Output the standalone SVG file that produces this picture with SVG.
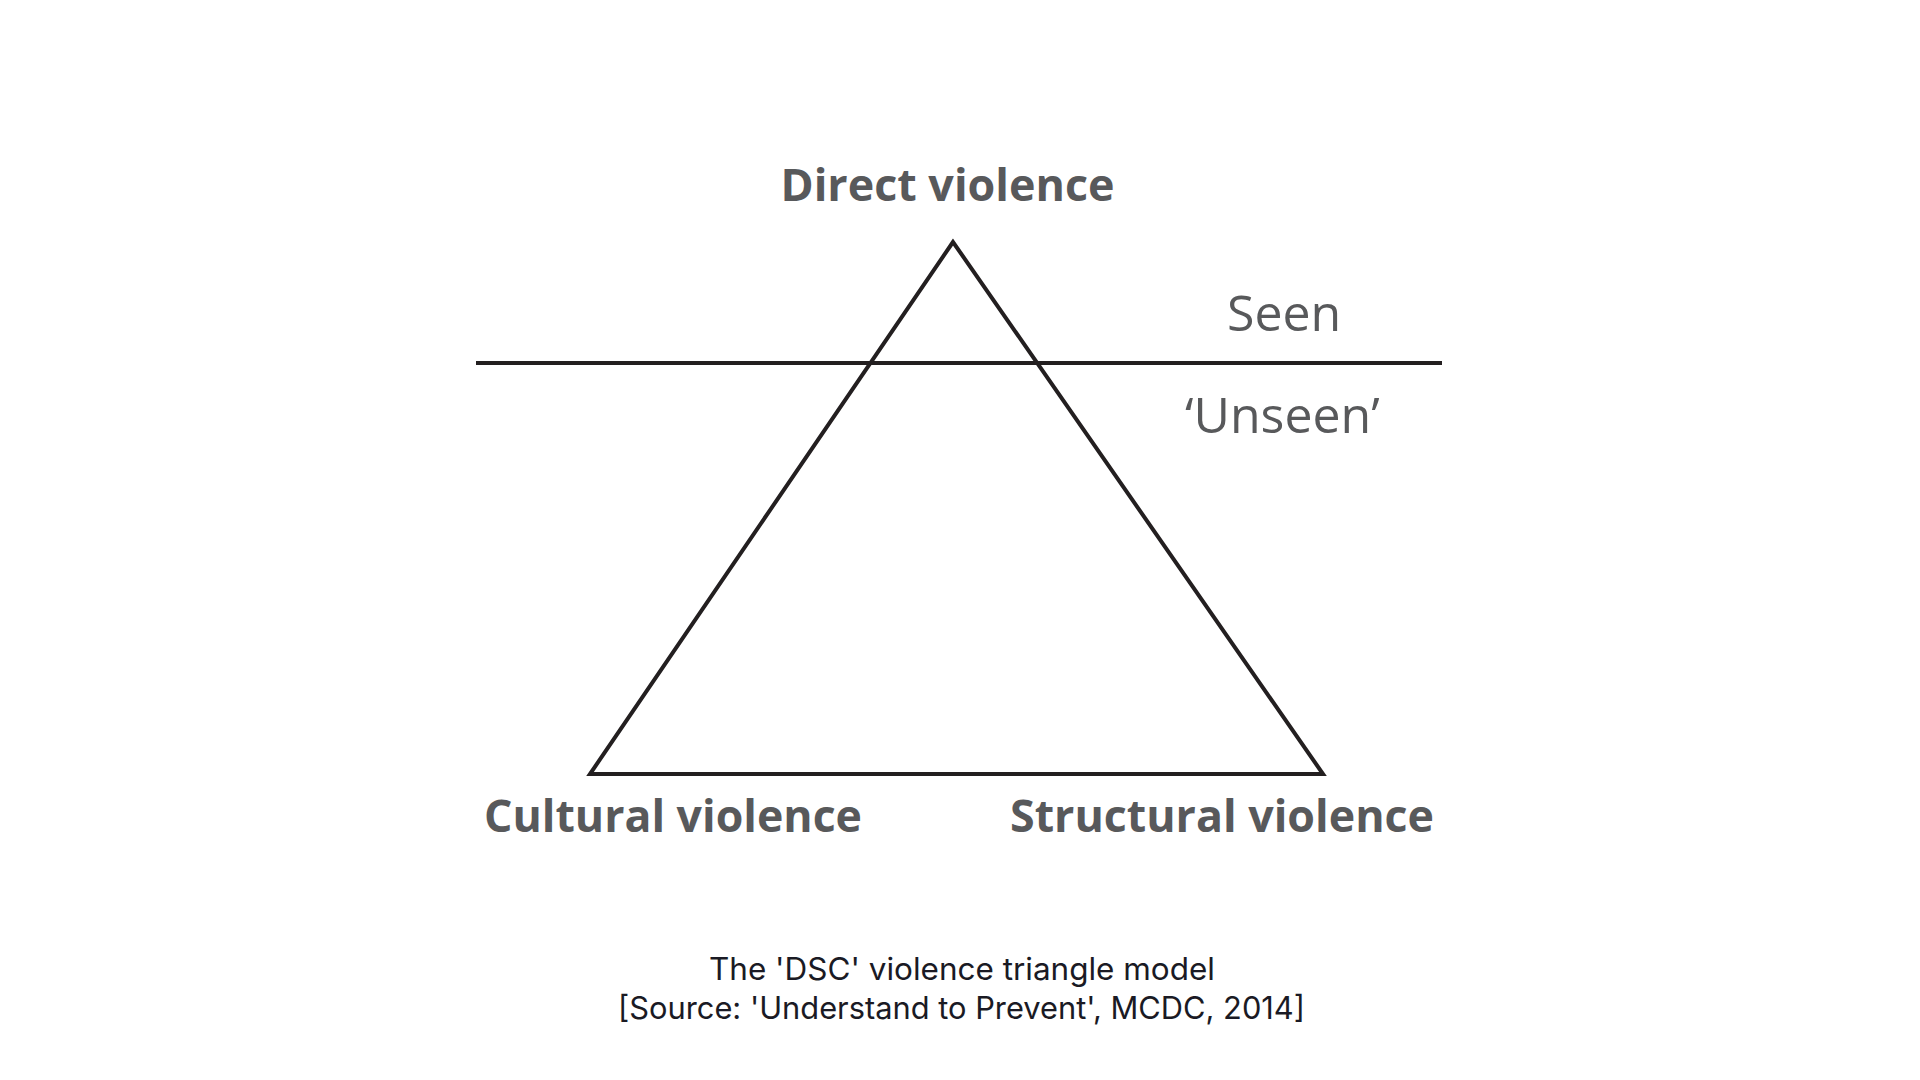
<svg xmlns="http://www.w3.org/2000/svg" width="1920" height="1080" viewBox="0 0 1920 1080">
<style>
.lbl{font-family:"Open Sans","Liberation Sans",sans-serif;font-weight:700;font-size:45.5px;fill:#58595b}
.reg{font-family:"Open Sans","Liberation Sans",sans-serif;font-weight:400;font-size:50px;fill:#58595b}
.cap{font-family:Inter,"Liberation Sans",sans-serif;font-size:31px;fill:#1a1a24;text-anchor:middle}
.ln{stroke:#231f20;stroke-width:4;fill:none;stroke-linejoin:miter}
</style>
<rect width="1920" height="1080" fill="#ffffff"/>
<g id="connectors">
<polygon class="ln" points="953,242 590,774 1323,774"/>
<line class="ln" x1="476" y1="363" x2="1442" y2="363"/>
</g>
<g id="direct"><text class="lbl" x="947.5" y="201" text-anchor="middle" textLength="334" lengthAdjust="spacingAndGlyphs">Direct violence</text></g>
<g id="seen"><text class="reg" x="1227" y="331">Seen</text></g>
<g id="unseen"><text class="reg" x="1185" y="433">‘Unseen’</text></g>
<g id="cultural"><text class="lbl" x="673" y="832" text-anchor="middle" textLength="378" lengthAdjust="spacingAndGlyphs">Cultural violence</text></g>
<g id="structural"><text class="lbl" x="1222" y="832" text-anchor="middle" textLength="424" lengthAdjust="spacingAndGlyphs">Structural violence</text></g>
<g id="caption">
<text class="cap" x="962" y="980" textLength="506" lengthAdjust="spacingAndGlyphs">The 'DSC' violence triangle model</text>
<text class="cap" x="961.5" y="1019" textLength="687" lengthAdjust="spacingAndGlyphs">[Source: 'Understand to Prevent', MCDC, 2014]</text>
</g>
</svg>
